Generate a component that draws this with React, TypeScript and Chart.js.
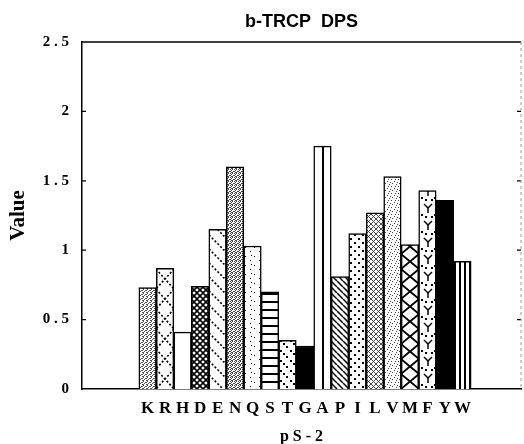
import React, { useEffect, useRef } from 'react';
import { Chart, registerables } from 'chart.js';

Chart.register(...registerables);

const chartTitle = 'b-TRCP  DPS';
const xAxisTitle = 'p S - 2';
const yAxisTitle = 'Value';

const residues = ['K', 'R', 'H', 'D', 'E', 'N', 'Q', 'S', 'T', 'G', 'A', 'P', 'I', 'L', 'V', 'M', 'F', 'Y', 'W'];
const values = [0.73, 0.87, 0.41, 0.74, 1.15, 1.6, 1.03, 0.7, 0.35, 0.31, 1.75, 0.81, 1.12, 1.27, 1.53, 1.04, 1.43, 1.36, 0.92];
const fillKinds = [
  'stippleLight', 'zigzag', 'blank', 'crossDense', 'diagSparse', 'stippleDark',
  'dotsSparse', 'hlines', 'diagDots', 'solid', 'vline', 'diagDense', 'dotsGrid',
  'crossSmall', 'stippleFine', 'bigX', 'yMarks', 'solid', 'vlines',
];

const yMin = 0;
const yMax = 2.5;
const yStep = 0.5;
const xMin = -2.75;
const xMax = 22.35;

type Draw = (g: CanvasRenderingContext2D, w: number, h: number) => void;

function px(g: CanvasRenderingContext2D, pts: number[][], size = 1) {
  pts.forEach(([x, y]) => g.fillRect(x, y, size, size));
}

function line(g: CanvasRenderingContext2D, x1: number, y1: number, x2: number, y2: number) {
  g.beginPath();
  g.moveTo(x1, y1);
  g.lineTo(x2, y2);
  g.stroke();
}

const tileDefs: Record<string, [number, number, Draw]> = {
  stippleLight: [4, 4, (g) => {
    g.fillStyle = '#555';
    px(g, [[0, 0], [2, 1], [1, 2], [3, 3], [3, 1], [0, 3]]);
  }],
  stippleDark: [4, 4, (g) => {
    g.fillStyle = '#444';
    px(g, [[0, 0], [2, 0], [1, 1], [3, 2], [0, 2], [2, 3], [1, 3]]);
  }],
  stippleFine: [7, 7, (g) => {
    g.fillStyle = '#444';
    px(g, [[0, 0], [3, 2], [1, 4], [5, 5], [4, 0], [6, 3]]);
  }],
  dotsSparse: [9, 9, (g) => px(g, [[1, 2], [6, 6], [7, 1]])],
  diagDots: [10, 10, (g) => px(g, [[1, 1], [4, 4], [7, 7]], 2)],
  dotsGrid: [8, 8, (g) => px(g, [[1, 1], [5, 5]], 2)],
  hlines: [4, 8, (g, w) => g.fillRect(0, 0, w, 2)],
  vlines: [5, 4, (g, w, h) => g.fillRect(0, 0, 2, h)],
  vline: [18, 4, (g, w, h) => g.fillRect(8, 0, 2, h)],
  crossDense: [6, 6, (g, w, h) => {
    g.lineWidth = 1.6;
    line(g, 0, 0, w, h);
    line(g, w, 0, 0, h);
  }],
  crossSmall: [5, 5, (g, w, h) => {
    g.lineWidth = 0.9;
    g.strokeStyle = '#333';
    line(g, 0, 0, w, h);
    line(g, w, 0, 0, h);
  }],
  zigzag: [18, 20, (g, w, h) => {
    g.lineWidth = 1.6;
    g.setLineDash([2, 2]);
    line(g, 0, 0, w, h);
    line(g, w, 0, 0, h);
  }],
  bigX: [18, 15, (g, w, h) => {
    g.lineWidth = 1.8;
    line(g, 0, 0, w, h);
    line(g, w, 0, 0, h);
  }],
  diagSparse: [14, 14, (g, w) => {
    g.lineWidth = 1.6;
    g.setLineDash([2, 2]);
    for (let k = -1; k <= 1; k++) line(g, k * w, 0, k * w + w, w);
  }],
  diagDense: [6, 6, (g, w) => {
    g.lineWidth = 1.5;
    for (let k = -1; k <= 1; k++) line(g, k * w, 0, k * w + w, w);
  }],
  yMarks: [18, 17, (g) => {
    g.lineWidth = 1.5;
    line(g, 5, 2, 9, 6);
    line(g, 13, 2, 9, 6);
    line(g, 9, 6, 9, 11);
    px(g, [[2, 12], [15, 12], [6, 14], [12, 14]], 2);
  }],
};

function makeFill(ctx: CanvasRenderingContext2D, kind: string): string | CanvasPattern {
  if (kind === 'solid') return '#000';
  if (kind === 'blank') return '#fff';
  const def = tileDefs[kind];
  const [w, h, draw] = def;
  const c = document.createElement('canvas');
  c.width = w;
  c.height = h;
  const g = c.getContext('2d') as CanvasRenderingContext2D;
  g.fillStyle = '#fff';
  g.fillRect(0, 0, w, h);
  g.fillStyle = '#000';
  g.strokeStyle = '#000';
  draw(g, w, h);
  return ctx.createPattern(c, 'repeat') as CanvasPattern;
}

const framePlugin = {
  id: 'frame',
  beforeDatasetsDraw(chart: any) {
    const meta = chart.getDatasetMeta(0);
    const bg = chart.data.datasets[0].backgroundColor as any[];
    meta.data.forEach((el: any, i: number) => {
      const p = bg[i];
      if (p && typeof p === 'object' && typeof p.setTransform === 'function') {
        p.setTransform(new DOMMatrix([1, 0, 0, 1, Math.round(el.x - el.width / 2), Math.round(el.base)]));
      }
    });
  },
  afterDraw(chart: any) {
    const { ctx, chartArea } = chart;
    const { left, right, top, bottom } = chartArea;
    const ys = chart.scales.y;
    ctx.save();
    ctx.strokeStyle = '#000';
    ctx.lineWidth = 1.5;
    ctx.beginPath();
    ctx.moveTo(left, top);
    ctx.lineTo(right, top);
    ctx.stroke();
    ctx.lineWidth = 1.3;
    ys.ticks.forEach((t: any) => {
      if (t.value <= yMin || t.value >= yMax) return;
      const py = ys.getPixelForValue(t.value);
      ctx.beginPath();
      ctx.moveTo(left, py);
      ctx.lineTo(left + 4, py);
      ctx.moveTo(right, py);
      ctx.lineTo(right - 4, py);
      ctx.stroke();
    });
    ctx.strokeStyle = '#999';
    ctx.lineWidth = 1;
    ctx.setLineDash([3, 3]);
    ctx.beginPath();
    ctx.moveTo(right, top);
    ctx.lineTo(right, bottom);
    ctx.stroke();
    ctx.restore();
  },
};

export default function App() {
  const ref = useRef<HTMLCanvasElement | null>(null);

  useEffect(() => {
    const canvas = ref.current;
    if (!canvas) return;
    const ctx = canvas.getContext('2d') as CanvasRenderingContext2D;
    const fills = fillKinds.map((k) => makeFill(ctx, k));
    const serif = 'Liberation Serif';

    const chart = new Chart(canvas, {
      type: 'bar',
      data: {
        datasets: [
          {
            data: values.map((v, i) => ({ x: i + 1, y: v })),
            backgroundColor: fills as any,
            borderColor: '#000',
            borderWidth: 1.5,
            barPercentage: 1,
            categoryPercentage: 1,
          },
        ],
      },
      options: {
        responsive: false,
        animation: false,
        layout: { padding: { left: 4, right: 3, top: 0, bottom: 0 } },
        plugins: {
          legend: { display: false },
          tooltip: { enabled: false },
          title: {
            display: true,
            text: chartTitle,
            fullSize: false,
            color: '#000',
            font: { family: 'Liberation Sans', size: 18, weight: 'bold' },
            padding: { top: 11, bottom: 9.4 },
          },
        },
        scales: {
          x: {
            type: 'linear',
            offset: false,
            min: xMin,
            max: xMax,
            grid: { display: false, drawTicks: false },
            border: { display: true, color: '#000', width: 1.5 },
            afterBuildTicks: (scale: any) => {
              scale.ticks = residues.map((_, i) => ({ value: i + 1 }));
            },
            afterFit: (scale: any) => {
              scale.height = 55;
            },
            ticks: {
              autoSkip: false,
              maxRotation: 0,
              color: '#000',
              padding: 9,
              font: { family: serif, size: 17, weight: 'bold' },
              callback: (v: any) => residues[Number(v) - 1] ?? '',
            },
            title: {
              display: true,
              text: xAxisTitle,
              color: '#000',
              font: { family: serif, size: 16, weight: 'bold' },
              padding: { top: 8, bottom: -2 },
            },
          },
          y: {
            min: yMin,
            max: yMax,
            grid: { display: false, drawTicks: false },
            border: { display: true, color: '#000', width: 1.5 },
            afterFit: (scale: any) => {
              scale.width = 78;
            },
            ticks: {
              stepSize: yStep,
              color: '#000',
              padding: 13,
              font: { family: serif, size: 15, weight: 'bold' },
              callback: (v: any) => String(v).split('').join(' '),
            },
            title: {
              display: true,
              text: yAxisTitle,
              color: '#000',
              font: { family: serif, size: 21, weight: 'bold' },
              padding: { top: 2, bottom: 0 },
            },
          },
        },
      },
      plugins: [framePlugin],
    });

    return () => chart.destroy();
  }, []);

  return (
    <div style={{ position: 'absolute', left: 0, top: 0, width: 524, height: 444, background: '#fff' }}>
      <canvas ref={ref} width={524} height={444} style={{ display: 'block', width: 524, height: 444 }} />
    </div>
  );
}
